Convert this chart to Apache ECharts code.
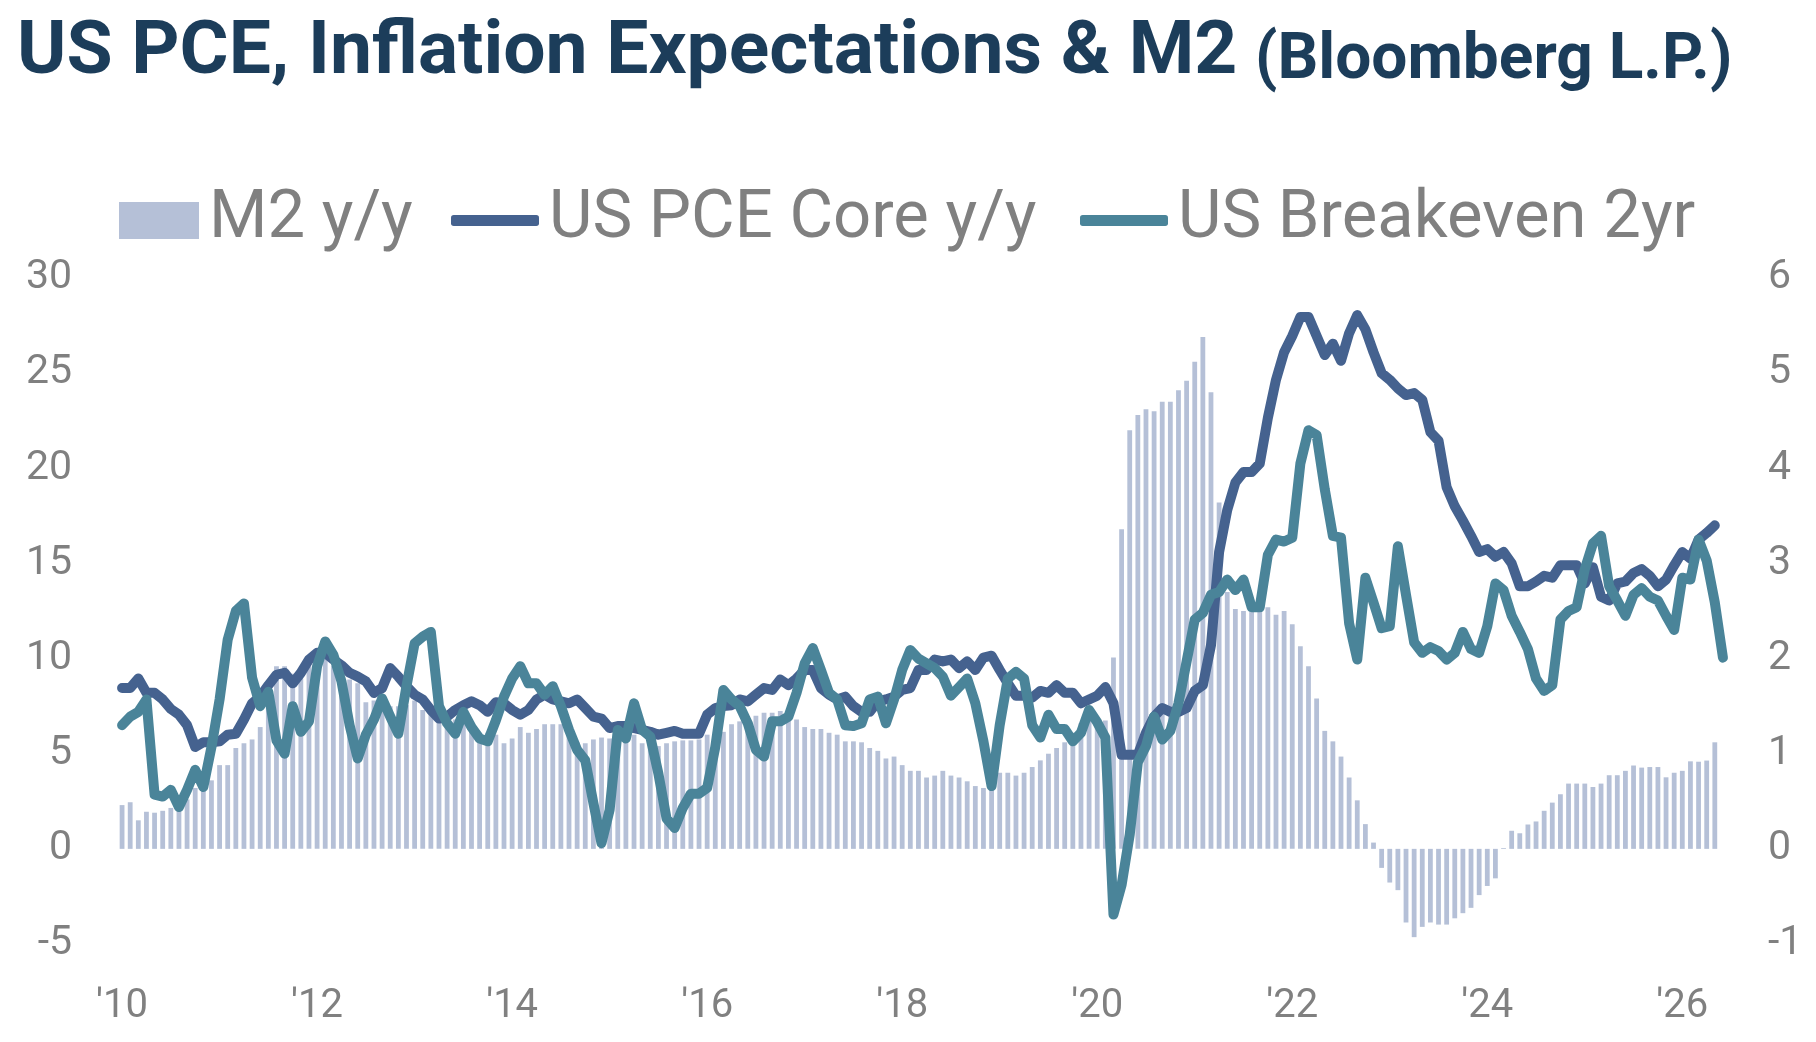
<!DOCTYPE html>
<html>
<head>
<meta charset="utf-8">
<script src="https://cdn.jsdelivr.net/npm/echarts@6/dist/echarts.min.js"></script>
<style>
  html, body { margin: 0; padding: 0; background: #fff; }
  #chart { width: 1816px; height: 1042px; }
</style>
</head>
<body>
<div id="chart"></div>
<script>
// monthly, Jan 2010 .. Jun 2026
const months = []
for (let y = 2010; y <= 2026; y++) {
  for (let m = 1; m <= 12; m++) {
    if (y === 2026 && m > 6) break
    months.push(y + '-' + String(m).padStart(2, '0'))
  }
}

// M2 y/y, % (left axis)
const m2 = [
  2.3,2.45,1.5,1.95,1.9,2.0,2.15,2.2,2.6,3.2,3.4,3.6,
  4.4,4.4,5.3,5.55,5.75,6.4,7.8,9.6,9.6,9.2,9.4,9.6,
  9.9,10.0,9.6,9.3,8.9,8.7,7.7,7.8,7.65,7.5,7.5,7.55,
  7.8,7.3,7.2,6.95,6.8,6.8,6.6,6.4,6.0,6.1,6.0,5.55,
  5.8,6.4,6.1,6.3,6.55,6.55,6.55,6.0,5.6,5.55,5.75,5.85,
  5.8,6.0,6.0,6.0,5.55,5.65,5.4,5.55,5.65,5.7,5.7,5.75,
  6.0,6.15,6.15,6.55,6.7,6.8,7.0,7.15,7.15,7.25,6.8,6.8,
  6.4,6.3,6.3,6.1,6.0,5.65,5.65,5.6,5.3,5.15,4.75,4.85,
  4.4,4.1,4.1,3.75,3.85,4.1,3.85,3.75,3.55,3.3,3.2,3.2,
  4.0,4.0,3.85,4.0,4.3,4.65,5.0,5.3,5.6,6.1,6.6,7.1,
  6.75,6.75,10.05,16.8,22.0,22.8,23.1,23.0,23.5,23.5,24.1,24.6,
  25.6,26.9,24.0,18.2,13.5,12.6,12.5,12.5,12.7,12.7,12.3,12.5,
  11.8,10.65,9.6,7.9,6.2,5.65,4.85,3.75,2.55,1.3,0.33,-1.0,
  -1.77,-2.17,-3.87,-4.64,-4.1,-3.87,-3.98,-3.98,-3.65,-3.38,-3.1,-2.43,
  -1.95,-1.55,0.04,0.95,0.82,1.28,1.44,2.0,2.43,2.87,3.43,3.43,
  3.43,3.25,3.43,3.87,3.87,4.1,4.38,4.27,4.3,4.3,3.76,4.0,
  4.1,4.6,4.58,4.64,5.6
]

// US PCE Core y/y, % (right axis)
const pceCore = [
  1.69,1.69,1.79,1.64,1.64,1.57,1.47,1.41,1.30,1.07,1.12,1.12,
  1.13,1.20,1.21,1.36,1.53,1.60,1.72,1.83,1.85,1.74,1.85,1.99,
  2.06,2.06,1.99,1.93,1.85,1.81,1.76,1.64,1.69,1.90,1.81,1.71,
  1.62,1.57,1.46,1.37,1.39,1.46,1.51,1.55,1.51,1.44,1.54,1.53,
  1.46,1.41,1.46,1.57,1.62,1.57,1.55,1.53,1.57,1.48,1.39,1.37,
  1.27,1.29,1.29,1.27,1.25,1.23,1.20,1.22,1.24,1.21,1.21,1.21,
  1.41,1.48,1.50,1.51,1.57,1.55,1.62,1.69,1.67,1.78,1.72,1.79,
  1.88,1.88,1.69,1.62,1.57,1.60,1.50,1.44,1.44,1.55,1.57,1.60,
  1.67,1.69,1.88,1.88,1.99,1.97,1.99,1.90,1.97,1.88,2.01,2.03,
  1.88,1.74,1.61,1.61,1.59,1.66,1.64,1.72,1.64,1.64,1.53,1.57,
  1.61,1.70,1.53,0.99,0.99,0.99,1.22,1.39,1.48,1.44,1.44,1.48,
  1.66,1.72,2.14,3.12,3.56,3.85,3.96,3.96,4.05,4.53,4.93,5.22,
  5.39,5.59,5.59,5.39,5.19,5.31,5.13,5.42,5.61,5.46,5.22,5.00,
  4.93,4.84,4.77,4.79,4.72,4.38,4.29,3.80,3.60,3.45,3.29,3.12,
  3.15,3.07,3.12,3.00,2.76,2.76,2.81,2.87,2.85,2.98,2.98,2.98,
  2.79,2.96,2.65,2.61,2.79,2.81,2.90,2.94,2.87,2.76,2.83,2.98,
  3.12,3.05,3.25,3.32,3.40
]

// US Breakeven 2yr, % (right axis)
const breakeven2y = [
  1.30,1.39,1.44,1.57,0.57,0.55,0.62,0.44,0.62,0.83,0.65,1.07,
  1.57,2.20,2.50,2.58,1.80,1.50,1.65,1.14,1.00,1.50,1.23,1.34,
  1.92,2.18,2.04,1.76,1.30,0.95,1.20,1.36,1.58,1.39,1.21,1.71,
  2.16,2.23,2.28,1.50,1.32,1.21,1.44,1.28,1.16,1.13,1.35,1.60,
  1.79,1.92,1.74,1.74,1.62,1.71,1.50,1.25,1.04,0.93,0.48,0.06,
  0.41,1.25,1.16,1.53,1.25,1.18,0.79,0.32,0.22,0.43,0.58,0.58,
  0.64,1.07,1.67,1.57,1.50,1.32,1.04,0.97,1.34,1.34,1.39,1.64,
  1.95,2.11,1.88,1.64,1.57,1.30,1.29,1.32,1.57,1.60,1.32,1.57,
  1.88,2.09,2.00,1.95,1.90,1.81,1.61,1.70,1.79,1.53,1.13,0.66,
  1.30,1.79,1.86,1.79,1.30,1.17,1.41,1.26,1.26,1.13,1.22,1.46,
  1.33,1.17,-0.69,-0.38,0.15,0.91,1.08,1.39,1.15,1.24,1.53,1.97,
  2.41,2.48,2.67,2.70,2.83,2.72,2.83,2.54,2.54,3.09,3.25,3.23,
  3.27,4.05,4.40,4.35,3.78,3.29,3.27,2.37,1.99,2.85,2.59,2.32,
  2.34,3.18,2.67,2.17,2.06,2.12,2.08,1.99,2.06,2.28,2.10,2.06,
  2.34,2.79,2.72,2.45,2.28,2.10,1.79,1.66,1.72,2.41,2.50,2.54,
  2.94,3.21,3.29,2.76,2.61,2.45,2.67,2.74,2.65,2.61,2.45,2.30,
  2.85,2.83,3.25,3.03,2.59,2.01
]

const FONT = 'Roboto'
const GREY = '#808080'
const legendText = { color: GREY, fontSize: 67, fontFamily: FONT, padding: [0, 0, 0, 5] }

const chart = echarts.init(document.getElementById('chart'))

chart.setOption({
  animation: false,
  backgroundColor: '#fff',
  title: [
    {
      text: 'US PCE, Inflation Expectations & M2',
      left: 12, top: 12,
      textStyle: { color: '#1c3d5a', fontSize: 75, fontWeight: 'bold', fontFamily: FONT }
    },
    {
      text: '(Bloomberg L.P.)',
      left: 1250, top: 25,
      textStyle: { color: '#1c3d5a', fontSize: 64, fontWeight: 'bold', fontFamily: FONT }
    }
  ],
  legend: [
    {
      data: ['M2 y/y'], left: 114, top: 182,
      itemWidth: 80, itemHeight: 37, icon: 'rect',
      textStyle: legendText
    },
    {
      data: ['US PCE Core y/y'], left: 446, top: 182,
      itemWidth: 88, itemHeight: 11, icon: 'roundRect',
      textStyle: legendText
    },
    {
      data: ['US Breakeven 2yr'], left: 1075, top: 182,
      itemWidth: 88, itemHeight: 11, icon: 'roundRect',
      textStyle: legendText
    }
  ],
  grid: { left: 118, right: 89, top: 278, bottom: 98 },
  xAxis: {
    type: 'category',
    data: months,
    axisLine: { show: false, onZero: false },
    axisTick: { show: false },
    splitLine: { show: false },
    axisLabel: {
      interval: (i) => i % 24 === 0,
      formatter: (v) => "'" + v.slice(2, 4),
      color: GREY, fontSize: 40, fontFamily: FONT, margin: 43
    }
  },
  yAxis: [
    {
      type: 'value', min: -5, max: 30, interval: 5,
      axisLine: { show: false }, axisTick: { show: false }, splitLine: { show: false },
      axisLabel: { color: GREY, fontSize: 41, fontFamily: FONT, margin: 46 }
    },
    {
      type: 'value', min: -1, max: 6, interval: 1,
      axisLine: { show: false }, axisTick: { show: false }, splitLine: { show: false },
      axisLabel: { color: GREY, fontSize: 41, fontFamily: FONT, margin: 41 }
    }
  ],
  series: [
    {
      name: 'M2 y/y',
      type: 'bar',
      yAxisIndex: 0,
      data: m2,
      barWidth: 4.8,
      itemStyle: { color: '#b5c0d7' }
    },
    {
      name: 'US PCE Core y/y',
      type: 'line',
      yAxisIndex: 1,
      data: pceCore,
      showSymbol: false,
      itemStyle: { color: '#45628f' },
      lineStyle: { color: '#45628f', width: 10, cap: 'round', join: 'round' }
    },
    {
      name: 'US Breakeven 2yr',
      type: 'line',
      yAxisIndex: 1,
      data: breakeven2y,
      showSymbol: false,
      itemStyle: { color: '#4a8499' },
      lineStyle: { color: '#4a8499', width: 10, cap: 'round', join: 'round' }
    }
  ]
})
</script>
</body>
</html>
